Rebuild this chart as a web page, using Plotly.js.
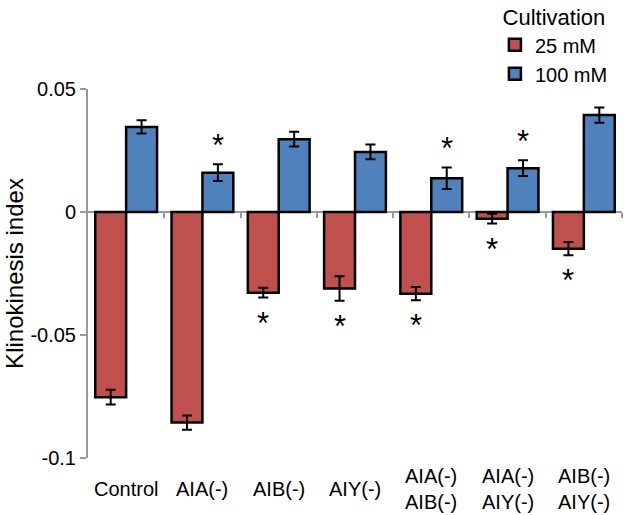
<!DOCTYPE html>
<html>
<head>
<meta charset="utf-8">
<script src="https://cdn.plot.ly/plotly-3.0.1.min.js"></script>
<style>html,body{margin:0;padding:0;background:#fff;}#chart{width:628px;height:515px;}</style>
</head>
<body>
<div id="chart"></div>
<script>
const categories = ["Control", "AIA(-)", "AIB(-)", "AIY(-)", "AIA(-)<br>AIB(-)", "AIA(-)<br>AIY(-)", "AIB(-)<br>AIY(-)"];
const values25 = [-0.0753, -0.0856, -0.0328, -0.0311, -0.0332, -0.0027, -0.0149];
const errors25 = [0.0030, 0.0029, 0.0020, 0.0050, 0.0027, 0.0020, 0.0027];
const values100 = [0.0346, 0.0160, 0.0296, 0.0244, 0.0137, 0.0178, 0.0394];
const errors100 = [0.0027, 0.0034, 0.0030, 0.0030, 0.0044, 0.0032, 0.0031];
const sig25 = [false, false, true, true, true, true, true];
const sig100 = [false, true, false, false, true, true, false];
const seriesNames = ["25 mM", "100 mM"];
const legendTitle = "Cultivation";
const yTitle = "Klinokinesis index";
const yTickVals = [-0.1, -0.05, 0, 0.05];
const yTickText = ["-0.1", "-0.05", "0", "0.05"];

const idx = categories.map((_, i) => i);
const font = "Arial, 'Liberation Sans', sans-serif";

const traces = [
  {
    type: "bar", name: seriesNames[0], x: idx, y: values25,
    marker: {color: "#C0504D", line: {color: "#000", width: 2.5}},
    error_y: {type: "data", array: errors25, visible: true, color: "#000", thickness: 2, width: 5}
  },
  {
    type: "bar", name: seriesNames[1], x: idx, y: values100,
    marker: {color: "#4F81BD", line: {color: "#000", width: 2.5}},
    error_y: {type: "data", array: errors100, visible: true, color: "#000", thickness: 2, width: 5}
  }
];

const annotations = [];
categories.forEach((c, i) => {
  annotations.push({
    x: i, xref: "x", y: -0.085, yref: "paper", text: c, showarrow: false,
    yanchor: "middle", xanchor: "center", align: "center",
    font: {family: font, size: 20, color: "#000"}
  });
  if (sig25[i]) {
    annotations.push({
      x: i, xref: "x", y: values25[i] - errors25[i], yref: "y", text: "*", showarrow: false,
      xshift: -15.5, yanchor: "top", yshift: -6,
      font: {family: font, size: 31, color: "#000"}
    });
  }
  if (sig100[i]) {
    annotations.push({
      x: i, xref: "x", y: values100[i] + errors100[i], yref: "y", text: "*", showarrow: false,
      xshift: 15.5, yanchor: "bottom", yshift: -1,
      font: {family: font, size: 31, color: "#000"}
    });
  }
});

const layout = {
  width: 628, height: 515,
  margin: {l: 88, r: 6, t: 89, b: 57, autoexpand: false},
  paper_bgcolor: "#fff", plot_bgcolor: "#fff",
  font: {family: font, size: 20, color: "#000"},
  barmode: "group", bargap: 0.19, bargroupgap: 0,
  showlegend: true,
  legend: {
    x: 0.762, y: 1.25, xanchor: "left", yanchor: "top",
    title: {text: legendTitle, side: "top center", font: {family: font, size: 22, color: "#000"}},
    font: {family: font, size: 20, color: "#000"},
    bgcolor: "rgba(0,0,0,0)"
  },
  xaxis: {
    type: "linear", range: [-0.5, categories.length - 0.5],
    anchor: "free", position: 0.6667,
    showline: true, linecolor: "#999", linewidth: 2,
    tickvals: idx.slice(1).map(v => v - 0.5).concat([categories.length - 0.5]),
    ticks: "outside", ticklen: 5, tickcolor: "#999", tickwidth: 2,
    showticklabels: false, showgrid: false, zeroline: false,
    layer: "below traces", fixedrange: true
  },
  yaxis: {
    range: [-0.1, 0.05],
    showline: true, linecolor: "#999", linewidth: 2,
    ticks: "outside", ticklen: 6, tickcolor: "#999", tickwidth: 2,
    tickvals: yTickVals, ticktext: yTickText,
    tickfont: {family: font, size: 20, color: "#000"},
    showgrid: false, zeroline: false,
    title: {text: yTitle, font: {family: font, size: 24, color: "#000"}, standoff: 0},
    layer: "below traces", fixedrange: true
  },
  annotations: annotations
};

Plotly.newPlot("chart", traces, layout, {displayModeBar: false, staticPlot: true});
</script>
</body>
</html>
